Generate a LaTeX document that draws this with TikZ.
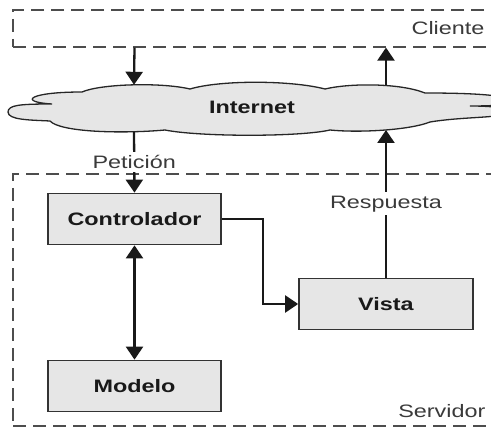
\documentclass[tikz,border=0pt]{standalone}
\usepackage{fontspec}
\setmainfont{Liberation Sans}[FakeStretch=1.3]
\usetikzlibrary{arrows.meta}
\definecolor{boxfill}{HTML}{E6E6E6}
\definecolor{boxline}{HTML}{333333}
\definecolor{zonegray}{HTML}{4D4D4D}
\definecolor{labgray}{HTML}{3A3A3A}
\begin{document}
\begin{tikzpicture}[x=1pt,y=-1pt,>={Triangle[width=17pt,length=13pt]},
    font=\fontsize{18}{21}\selectfont,
    comp/.style={draw=boxline,line width=1.7pt,fill=boxfill,minimum width=173pt,minimum height=51pt,
      font=\fontsize{18}{21}\selectfont\bfseries,text=black!90},
    zone/.style={draw=zonegray,line width=1.2pt,dash pattern=on 13pt off 7pt,minimum width=507pt},
    flow/.style={->,line width=2.3pt,black!90},
    lab/.style={text=labgray}]
    \useasboundingbox (0,0) rectangle (491,428);
    % zonas cliente / servidor
    \node[zone,minimum height=37pt] (cli) at (266.5,28.5) {};
    \node[zone,minimum height=252pt] (srv) at (266.5,300) {};
    \node[lab,anchor=east] (clitxt) at (488,28) {Cliente};
    \node[lab,anchor=east] (srvtxt) at (489,411) {Servidor};
    % nube
    \draw[draw=black!85,line width=1.3pt,fill=boxfill] (8,112)
      .. controls (8,105) and (20,104) .. (52,104)
      .. controls (18,102) and (28,92) .. (82,92)
      .. controls (100,84) and (160,82) .. (190,89)
      .. controls (220,80) and (290,80) .. (325,89)
      .. controls (350,83) and (400,83) .. (425,93)
      .. controls (460,93) and (500,94) .. (515,100)
      .. controls (522,104) and (500,106) .. (470,106)
      .. controls (510,106) and (515,112) .. (505,114)
      .. controls (495,118) and (460,117) .. (430,122)
      .. controls (410,130) and (360,133) .. (330,130)
      .. controls (300,137) and (200,137) .. (165,130)
      .. controls (120,134) and (60,132) .. (50,121)
      .. controls (30,120) and (8,120) .. (8,112) -- cycle;
    \node[font=\fontsize{18}{21}\selectfont\bfseries,text=black!90] (inet) at (252,107) {Internet};
    \coordinate (cloudNW) at (134,84.8);
    \coordinate (cloudNE) at (386,85.5);
    \coordinate (cloudSW) at (134,131.8);
    \coordinate (cloudSE) at (386,130);
    % componentes
    \node[comp] (ctrl) at (134.5,219) {Controlador};
    \node[comp] (modelo) at (134.5,386) {Modelo};
    \node[comp,minimum width=174pt] (vista) at (386,304) {Vista};
    % flechas
    \draw[flow] (cli.south -| ctrl.north) -- (cloudNW);
    \draw[flow] (cloudNE) -- (cli.south -| vista.north);
    \draw[flow] (cloudSW) -- node[lab,fill=white]{Petición} (ctrl.north);
    \draw[flow] (vista.north) -- node[lab,fill=white]{Respuesta} (cloudSE);
    \draw[flow] (ctrl.east) -- ++(41,0) |- (vista.west);
    \draw[flow,<->] (ctrl.south) -- (modelo.north);
\end{tikzpicture}
\end{document}
